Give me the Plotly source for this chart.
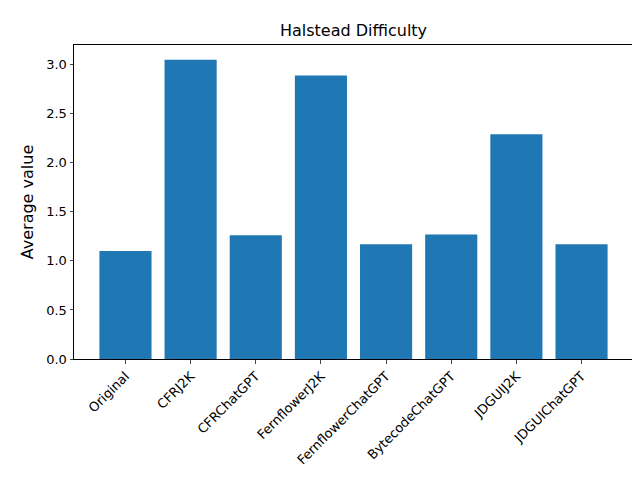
import plotly.graph_objects as go

categories = ["Original", "CFRJ2K", "CFRChatGPT", "FernflowerJ2K", "FernflowerChatGPT",
              "BytecodeChatGPT", "JDGUIJ2K", "JDGUIChatGPT"]
values = [1.10, 3.05, 1.26, 2.89, 1.17, 1.27, 2.29, 1.17]

fig = go.Figure(go.Bar(x=list(range(len(categories))), y=values, width=0.8,
                       marker=dict(color="#1f77b4", line=dict(width=0))))
fig.update_layout(
    width=640, height=480, plot_bgcolor="white", paper_bgcolor="white",
    margin=dict(l=66, r=15, t=37, b=129, autoexpand=False),
    font=dict(family="DejaVu Sans", size=13, color="black"),
    title=dict(text="Halstead Difficulty", x=0.5, xanchor="center", xref="paper",
               y=1 - 22/480, yanchor="middle", font=dict(size=16)),
    showlegend=False,
)
fig.update_xaxes(range=[-0.79, 7.79], tickvals=list(range(len(categories))), ticktext=categories,
                 tickangle=-45, showline=True, linecolor="black", mirror=True, ticks="outside",
                 ticklen=3.5, showgrid=False, zeroline=False, automargin=False)
fig.update_yaxes(range=[0, 3.2], tickvals=[0, 0.5, 1, 1.5, 2, 2.5, 3],
                 ticktext=["0.0", "0.5", "1.0", "1.5", "2.0", "2.5", "3.0"],
                 showline=True, linecolor="black", mirror=True, ticks="outside", ticklen=3.5,
                 showgrid=False, zeroline=False, automargin=False,
                 title=dict(text="Average value", standoff=8))
fig.write_html("out.html")
